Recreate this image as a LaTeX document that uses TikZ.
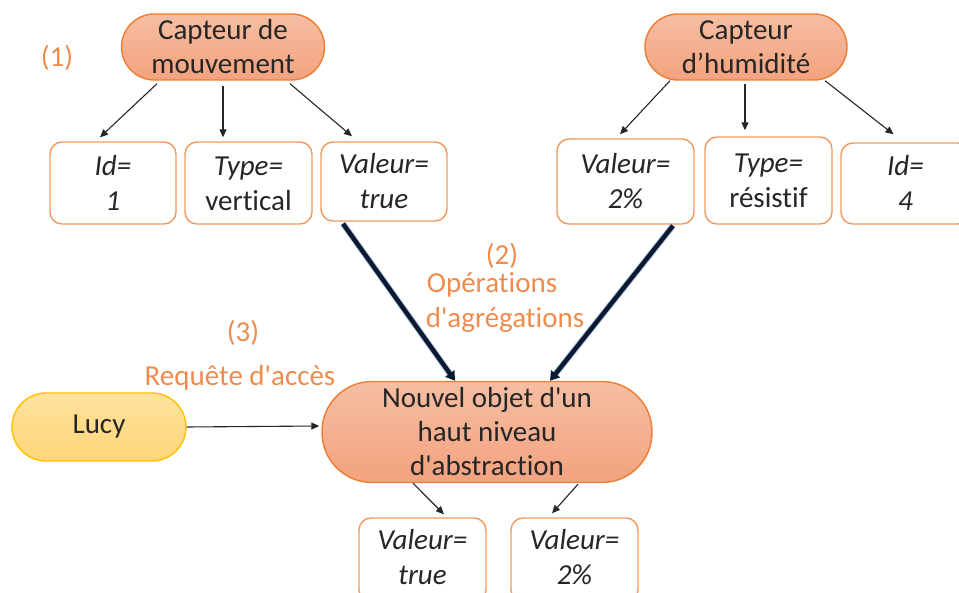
\documentclass[tikz,border=0pt]{standalone}
\usepackage{fontspec}
\setmainfont{Carlito}[Ligatures={NoCommon,NoDiscretionary}]
\usetikzlibrary{arrows.meta}

\definecolor{pillline}{HTML}{ED7D31}
\definecolor{pilltop}{HTML}{F6BEA3}
\definecolor{pillbot}{HTML}{F3A27E}
\definecolor{boxline}{HTML}{F0995E}
\definecolor{labelc}{HTML}{EE8C4E}
\definecolor{lucytop}{HTML}{FFE2A0}
\definecolor{lucybot}{HTML}{FFD677}
\definecolor{lucyline}{HTML}{FFC000}
\definecolor{aggline}{HTML}{0B1A33}
\definecolor{aggglow}{HTML}{5B86C0}

\newcommand{\sq}{\textquotesingle}
% line struts that set where the two lines of a value box sit
\newcommand{\bst}{\rule[-6pt]{0pt}{32pt}}
\newcommand{\bsb}{\rule[-9pt]{0pt}{32pt}}

\begin{document}
\begin{tikzpicture}[x=1pt,y=-1pt,
  txt/.style={font=\fontsize{29}{34}\selectfont},
  pill/.style={txt, draw=pillline, line width=1.4, top color=pilltop, bottom color=pillbot,
    align=center, inner sep=0, text=black!85},
  userpill/.style={pill, draw=lucyline, top color=lucytop, bottom color=lucybot},
  valbox/.style={font=\fontsize{29}{35}\selectfont, draw=boxline, line width=1.4, rounded corners=12, fill=white,
    align=center, inner sep=0, text=black!85},
  lbl/.style={txt, text=labelc, inner sep=0},
  arr/.style={draw=black!85, line width=1.1, -{Triangle[length=8,width=7]}},
  agg/.style={draw=aggline, line width=4.5, -{Triangle[length=9,width=11]}},
  glow/.style={draw=aggglow, line width=6.5, opacity=0.4, shorten >=6}
]
\useasboundingbox (0,0) rectangle (959,593);
\clip (0,0) rectangle (959,593);

% sensors
\node[pill, minimum width=203, minimum height=66, rounded corners=33] (cm) at (223,47) {Capteur de\\mouvement};
\node[pill, minimum width=202, minimum height=66, rounded corners=33] (ch) at (746,47) {Capteur\\d’humidité};

% attributes of the motion sensor
\node[valbox, minimum width=126, minimum height=82] (id1) at (113,183) {\bst\textit{Id=}\\\bst\textit{1}};
\node[valbox, minimum width=127, minimum height=82] (typ1) at (248.5,183) {\bst\textit{Type=}\\\bst vertical};
\node[valbox, minimum width=126, minimum height=79] (val1) at (384,181.5) {\bst\textit{Valeur=}\\\bst\textit{true}};

% attributes of the humidity sensor
\node[valbox, minimum width=137, minimum height=85] (val2) at (625.5,181.5) {\bst\textit{Valeur=}\\\bst\textit{2\%}};
\node[valbox, minimum width=127, minimum height=87] (typ2) at (768.5,180.5) {\bst\textit{Type=}\\\bst résistif};
\node[valbox, minimum width=129, minimum height=81] (id4) at (905.5,183.5) {\bst\textit{Id=}\\\bst\textit{4}};

% aggregated object and requester
\node[pill, minimum width=330, minimum height=101, rounded corners=50] (no) at (487,432) {Nouvel objet d\sq un\\haut niveau\\d\sq abstraction};
\node[userpill, minimum width=174, minimum height=68, rounded corners=34] (lucy) at (99,427) {Lucy};

% resulting values
\node[valbox, minimum width=127, minimum height=84] (bv1) at (422.5,560) {\bsb\textit{Valeur=}\\\bsb\textit{true}};
\node[valbox, minimum width=127, minimum height=84] (bv2) at (574.5,560) {\bsb\textit{Valeur=}\\\bsb\textit{2\%}};

% step labels
\node[lbl] (s1) at (57,58) {(1)};
\node[lbl] (s2) at (502,256) {(2)};
\node[lbl] (s2a) at (492,285) {Opérations};
\node[lbl] (s2b) at (505,320) {d\sq agrégations};
\node[lbl] (s3) at (243,333) {(3)};
\node[lbl] (s3a) at (240,378) {Requête d\sq accès};

% sensor -> attribute arrows
\draw[arr] ([xshift=-66,yshift=-3]cm.south) -- ([xshift=-13,yshift=4]id1.north);
\draw[arr] ([yshift=-5]cm.south) -- ([xshift=-25.5,yshift=4]typ1.north);
\draw[arr] ([xshift=67,yshift=-3]cm.south) -- ([xshift=-32,yshift=5]val1.north);
\draw[arr] ([xshift=-76,yshift=0]ch.south) -- ([xshift=-5.5,yshift=4]val2.north);
\draw[arr] ([xshift=-1,yshift=-3]ch.south) -- ([xshift=-23.5,yshift=6]typ2.north);
\draw[arr] ([xshift=79,yshift=0]ch.south) -- ([xshift=-12,yshift=8]id4.north);

% aggregation arrows
\draw[glow] ([xshift=-41,yshift=-2]val1.south) -- ([xshift=-32]no.north);
\draw[agg] ([xshift=-41,yshift=-2]val1.south) -- ([xshift=-32]no.north);
\draw[glow] ([xshift=47.5,yshift=-1]val2.south) -- ([xshift=63]no.north);
\draw[agg] ([xshift=47.5,yshift=-1]val2.south) -- ([xshift=63]no.north);

% access request
\draw[arr] (lucy.east) -- ([xshift=-2,yshift=6]no.west);

% object -> values
\draw[arr] ([xshift=-74]no.south) -- ([xshift=21.5,yshift=3]bv1.north);
\draw[arr] ([xshift=91,yshift=-1]no.south) -- ([xshift=-22.5,yshift=4]bv2.north);
\end{tikzpicture}
\end{document}
